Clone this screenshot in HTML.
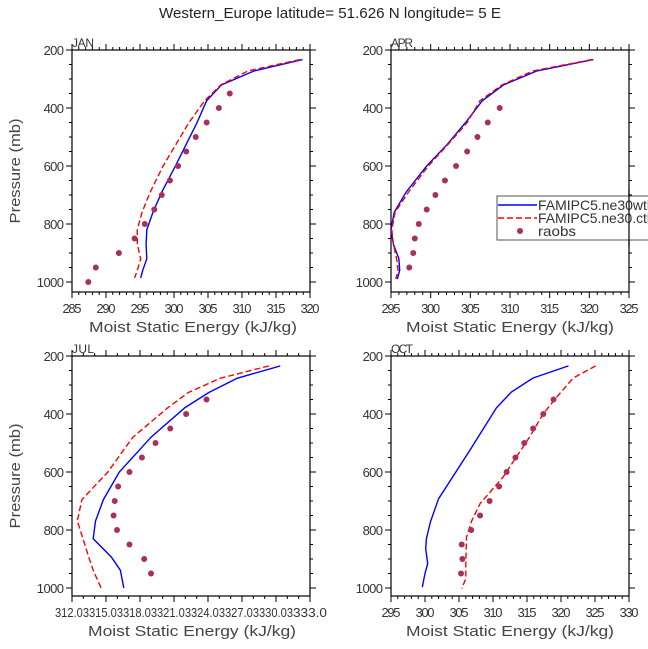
<!DOCTYPE html>
<html><head><meta charset="utf-8">
<style>
html,body{margin:0;padding:0;background:#fff;}
svg{display:block;font-family:"Liberation Sans","DejaVu Sans",sans-serif;}
</style></head>
<body>
<svg id="chart" width="648" height="649" viewBox="0 0 648 649">
<text x="330" y="18" font-size="15" text-anchor="middle" fill="#222" textLength="342" lengthAdjust="spacingAndGlyphs">Western_Europe  latitude= 51.626 N longitude= 5 E</text>
</svg>
<script>
// ---- data ----
const janLevels = [233,272,320,375,450,525,600,690,760,820,870,920,960,986];
const janModelWtl = [318.9,311.8,307.0,304.8,303.4,301.8,300.2,298.2,296.9,296.0,295.9,296.0,295.4,295.1];
const janModelCtl = [318.5,310.9,306.9,304.5,302.2,300.3,298.4,296.5,295.3,294.6,294.6,295.1,294.6,294.2];
const janObsP = [350,400,450,500,550,600,650,700,750,800,850,900,950,1000];
const janObs = [308.2,306.6,304.8,303.2,301.8,300.6,299.4,298.2,297.1,295.7,294.2,291.9,288.5,287.4];

const aprLevels = [233,272,320,375,450,525,600,690,760,820,870,920,960,990];
const aprModelWtl = [320.5,313.4,309.2,306.5,304.4,302.1,299.5,296.9,295.4,295.0,295.3,296.0,296.1,295.8];
const aprModelCtl = [320.3,312.9,309.0,306.2,304.6,302.2,299.7,297.2,295.5,295.1,295.3,295.7,295.9,295.6];
const aprObsP = [400,450,500,550,600,650,700,750,800,850,900,950];
const aprObs = [308.7,307.2,305.9,304.6,303.2,301.8,300.6,299.5,298.5,298.0,297.8,297.3];

const julLevels = [234,277,326,378,480,523,600,695,769,830,893,939,1000];
const julModelWtl = [330.4,326.6,324.1,322.0,319.0,318.0,316.2,314.8,314.1,313.9,315.5,316.3,316.6];
const julModelCtl = [329.4,325.1,322.3,320.5,317.4,316.6,315.2,312.9,312.5,313.0,313.5,313.9,314.6];
const julObsP = [350,400,450,500,550,600,650,700,750,800,850,900,950];
const julObs = [323.9,322.1,320.7,319.4,318.2,317.1,316.1,315.8,315.7,316.0,317.1,318.4,319.0];

const octLevels = [234,276,324,379,525,692,772,830,864,916,950,997];
const octModelWtl = [321.1,315.9,312.7,310.5,306.6,302.0,300.8,300.2,300.1,300.4,300.0,299.6];
const octLevelsCtl = [234,276,341,399,479,617,709,767,824,916,968,1002];
const octModelCtl = [325.1,321.8,319.4,317.4,315.4,311.5,308.1,306.9,306.1,306.0,306.0,305.4];
const octObsP = [350,400,450,500,550,600,650,700,750,800,850,900,950];
const octObs = [318.9,317.4,315.9,314.6,313.3,312.0,310.9,309.5,308.1,306.8,305.4,305.5,305.3];

const janTicks = ["285","290","295","300","305","310","315","320"];
const aprTicks = ["295","300","305","310","315","320","325"];
const julTicks = ["312.03","315.03","318.03","321.03","324.03","327.03","330.03","333.0"];
const octTicks = ["295","300","305","310","315","320","325","330"];
const yTicks = ["200","400","600","800","1000"];

const svg = document.getElementById('chart');
const NS = 'http://www.w3.org/2000/svg';
function mk(tag, attrs, parent){
  const e = document.createElementNS(NS, tag);
  for (const k in attrs) e.setAttribute(k, attrs[k]);
  (parent||svg).appendChild(e);
  return e;
}

function panel(cfg){
  const g = mk('g', {});
  
  
  const L=cfg.x0, R=cfg.x1, T=cfg.y0, B=cfg.y1;
  const pTop=200, pBot=200 + (B-T)/ (cfg.y1000-T) * 800;
  const xs = v => L + (v-cfg.xmin)/(cfg.xmax-cfg.xmin)*(R-L);
  const ys = p => T + (p-pTop)/(pBot-pTop)*(B-T);
  const tg = mk('g', {stroke:'#000','stroke-width':1}, g);
  
  
  const nx = cfg.ticks.length-1;
  const minorPer = cfg.minor;
  for (let i=0;i<=nx*minorPer;i++){
    const x = L + i*(R-L)/(nx*minorPer);
    const len = (i%minorPer===0)?6:3;
    mk('line',{x1:x,y1:B,x2:x,y2:B+len},tg);
    mk('line',{x1:x,y1:T,x2:x,y2:T-len},tg);
  }
  for (let p=200;p<=pBot;p+=50){
    const y = ys(p);
    const len = (p%200===0)?6:3;
    mk('line',{x1:L,y1:y,x2:L-len,y2:y},tg);
    mk('line',{x1:R,y1:y,x2:R+len,y2:y},tg);
  }
  mk('rect',{x:L,y:T,width:R-L,height:B-T,fill:'none',stroke:'#000','stroke-width':1.2},g);
  cfg.ticks.forEach((t,i)=>{
    const attrs = {x:L+i*(R-L)/nx,y:B+21,'font-size':13,'text-anchor':'middle',fill:'#333'};
    if (t.length>4){ attrs.textLength = 34; attrs.lengthAdjust='spacingAndGlyphs'; }
    else attrs.textLength = 19;
    const tx = mk('text',attrs,g);
    
    
    tx.textContent=t;
  });
  yTicks.forEach(t=>{
    const ty = mk('text',{x:L-8,y:ys(+t)+5,'font-size':13,'text-anchor':'end',fill:'#333',textLength:t.length*6.8},g);
    
    
    ty.textContent=t;
  });
  const lab = mk('text',{x:L,y:T-3,'font-size':12,fill:'#333',textLength:22},g);
  
  
  lab.textContent=cfg.name;
  const xt = mk('text',{x:cfg.xtc,y:B+40,'font-size':15,'text-anchor':'middle',fill:'#444',textLength:208,lengthAdjust:'spacingAndGlyphs'},g);
  
  
  xt.textContent='Moist Static Energy (kJ/kg)';
  if (cfg.ylab){
    const yt = mk('text',{x:0,y:0,'font-size':15,'text-anchor':'middle',fill:'#444',textLength:105,lengthAdjust:'spacingAndGlyphs',transform:`translate(20,${(T+B)/2}) rotate(-90)`},g);
    
    
    yt.textContent='Pressure (mb)';
  }
  const pts = (ps, vs) => ps.map((p,i)=>xs(vs[i]).toFixed(1)+','+ys(p).toFixed(1)).join(' ');
  const l1 = mk('polyline',{points:pts(cfg.p1,cfg.v1),fill:'none',stroke:'#0000ff','stroke-width':1.4},g);
  
  
  const l2 = mk('polyline',{points:pts(cfg.p2,cfg.v2),fill:'none',stroke:'#ff0000','stroke-width':1.4,'stroke-dasharray':'6,3'},g);
  
  
  cfg.op.forEach((p,i)=>{
    const c = mk('circle',{cx:xs(cfg.ov[i]),cy:ys(p),r:3,fill:'#a8305c'},g);
    
    
  });
}

panel({name:'JAN',x0:72,x1:310,y0:50,y1:292,y1000:282,xmin:285,xmax:320,ticks:janTicks,minor:5,ylab:true,xtc:193,
  p1:janLevels,v1:janModelWtl,p2:janLevels,v2:janModelCtl,op:janObsP,ov:janObs});
panel({name:'APR',x0:391,x1:629,y0:50,y1:292,y1000:282,xmin:295,xmax:325,ticks:aprTicks,minor:5,ylab:false,xtc:510,
  p1:aprLevels,v1:aprModelWtl,p2:aprLevels,v2:aprModelCtl,op:aprObsP,ov:aprObs});
panel({name:'JUL',x0:72,x1:310,y0:356,y1:596,y1000:588,xmin:312.03,xmax:333.03,ticks:julTicks,minor:3,ylab:true,xtc:192,
  p1:julLevels,v1:julModelWtl,p2:julLevels,v2:julModelCtl,op:julObsP,ov:julObs});
panel({name:'OCT',x0:391,x1:629,y0:356,y1:596,y1000:588,xmin:295,xmax:330,ticks:octTicks,minor:5,ylab:false,xtc:510,
  p1:octLevels,v1:octModelWtl,p2:octLevelsCtl,v2:octModelCtl,op:octObsP,ov:octObs});

const lg = mk('g',{});


mk('rect',{x:497,y:196,width:160,height:44,fill:'#fff',stroke:'#555','stroke-width':1},lg);
mk('line',{x1:498,y1:205,x2:537,y2:205,stroke:'#0000ff','stroke-width':1.4},lg);
mk('line',{x1:498,y1:218,x2:537,y2:218,stroke:'#ff0000','stroke-width':1.4,'stroke-dasharray':'6,3'},lg);
mk('circle',{cx:520,cy:231,r:3,fill:'#a8305c'},lg);
[['FAMIPC5.ne30wtl',210,112],['FAMIPC5.ne30.ctl',223,112],['raobs',236,38]].forEach(([t,y,w])=>{
  const e = mk('text',{x:538,y:y,'font-size':14,fill:'#333',textLength:w,lengthAdjust:'spacingAndGlyphs'},lg);
  
  
  e.textContent=t;
});
mk('line',{x1:629,y1:190,x2:629,y2:246,stroke:'#000','stroke-width':1.2},lg);
</script>
</body></html>
